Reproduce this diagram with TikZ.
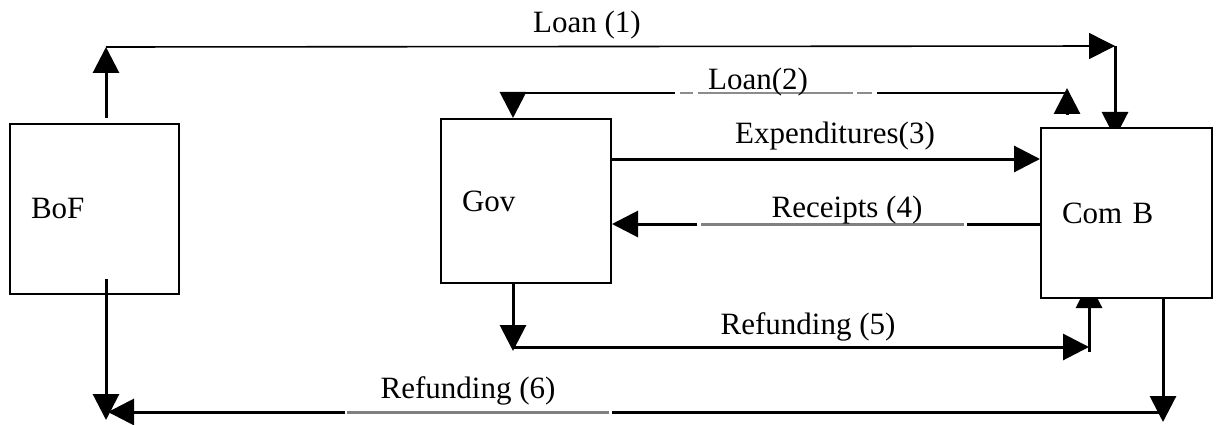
\documentclass[tikz,border=0pt]{standalone}
\usepackage{fontspec}
\setmainfont{Liberation Serif}
\usetikzlibrary{arrows.meta,backgrounds}
\tikzset{
  box/.style={draw, line width=2pt, fill=white, rectangle, inner xsep=21pt, inner ysep=0pt,
    align=left, font=\fontsize{31}{37}\selectfont},
  lbl/.style={anchor=base, inner sep=0pt, font=\fontsize{31}{37}\selectfont},
  thk/.style={line width=3pt},
  thn/.style={line width=1.6pt},
  arr/.style={-{Triangle[length=26pt,width=26pt]}},
  grayseg/.style={line width=3pt, draw=black!50},
  gapseg/.style={line width=4pt, draw=white},
}
\begin{document}
\begin{tikzpicture}[x=1pt,y=-1pt]
\useasboundingbox (0,0) rectangle (1220,425);

% boxes
\node[box, minimum width=169pt, minimum height=170pt, text width=127pt] (bof) at (94.5,209) {BoF};
\node[box, minimum width=170pt, minimum height=164pt, text width=128pt] (gov) at (526,201) {Gov};
\node[box, minimum width=171pt, minimum height=170pt, text width=129pt] (comb) at (1126.5,213) {Com B};

% labels
\node[lbl] (t1) at (587,33) {Loan (1)};
\node[lbl] (t2) at (758,90) {Loan(2)};
\node[lbl] (t3) at (835,143) {Expenditures(3)};
\node[lbl] (t4) at (847,217) {Receipts (4)};
\node[lbl] (t5) at (808,334) {Refunding (5)};
\node[lbl] (t6) at (468,398) {Refunding (6)};

\begin{scope}[on background layer]
\fill[white] (0,0) rectangle (1220,425);
% Loan (1)
\coordinate (c0) at (106,118);
\coordinate (c1) at (106,47);
\coordinate (c2) at (1115,46);
\draw[thk,arr] (c0) -- (c1);
\draw[thn,arr] (c1) -- (c2);
\draw[thk,arr] (c2) -- ([yshift=-11pt]comb.north -| c2);
% Loan (2)
\coordinate (c3) at (513,93);
\coordinate (c4) at (1067,93);
\coordinate (c5) at (1067,115);
\coordinate (c6) at (1067,88);
\draw[thn] (c4) -- (c3);
\draw[thk,arr] (c3) -- (gov.north -| c3);
\draw[thk,arr] (c5) -- (c6);
\draw[gapseg] (675,93) -- (877,93);
\draw[grayseg,line width=2pt,draw=black!45] (680,93) -- (693,93) (698,93) -- (853,93) (857,93) -- (872,93);
% Expenditures (3)
\coordinate (y3) at (0,159);
\draw[thk,arr] (gov.east |- y3) -- (comb.west |- y3);
% Receipts (4)
\coordinate (y4) at (0,224);
\draw[thk,arr] (comb.west |- y4) -- (gov.east |- y4);
\draw[gapseg] (697,224) -- (967,224);
\draw[grayseg] (701,224) -- (964,224);
% Refunding (5)
\coordinate (c7) at (513,351);
\coordinate (c8) at (513,347);
\coordinate (c9) at (1089,347);
\coordinate (c10) at (1089,352);
\draw[thk,arr] (gov.south -| c7) -- (c7);
\draw[thk,arr] (c8) -- (c9);
\draw[thk,arr] (c10) -- ([yshift=17pt]comb.south -| c10);
% Refunding (6)
\coordinate (c11) at (1163,422);
\coordinate (c12) at (1163,412);
\coordinate (c13) at (108,412);
\draw[thk,arr] (comb.south -| c11) -- (c11);
\draw[thk,arr] (c12) -- (c13);
\draw[gapseg] (345,412) -- (612,412);
\draw[grayseg] (347,412) -- (609,412);
\end{scope}

% BoF down arrow (over the box border)
\coordinate (c14) at (106,279);
\coordinate (c15) at (106,420);
\draw[thk,arr] (c14) -- (c15);
\end{tikzpicture}
\end{document}
